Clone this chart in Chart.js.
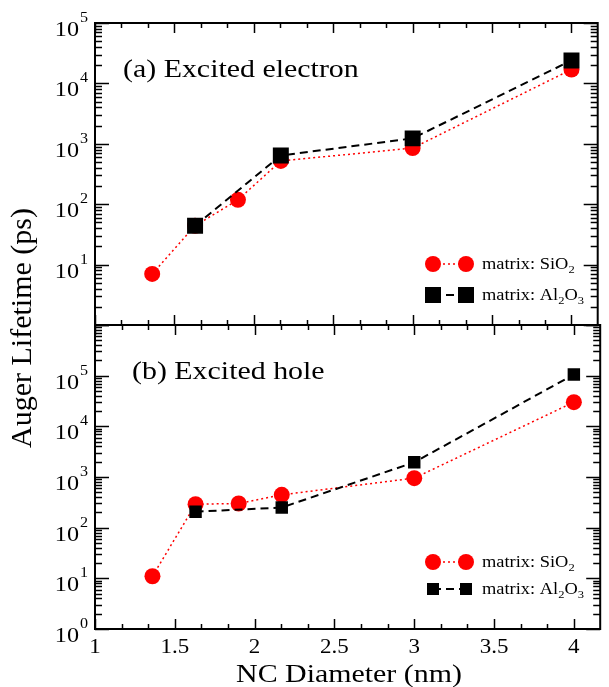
<!DOCTYPE html>
<html>
<head>
<meta charset="utf-8">
<script src="https://cdn.jsdelivr.net/npm/chart.js@4"></script>
<style>
  html, body { margin: 0; padding: 0; background: #fff; }
  #wrap { position: relative; width: 609px; height: 687px; }
  #wrap canvas { position: absolute; left: 0; top: 0; }
</style>
</head>
<body>
<div id="wrap">
  <canvas id="chartA" width="609" height="687"></canvas>
  <canvas id="chartB" width="609" height="687"></canvas>
</div>
<script>
// dados (NC diameter em nm, Auger lifetime em ps)
const diamSiO2 = [1.36, 1.63, 1.9, 2.17, 3.0, 4.0];
const diamAl2O3 = [1.63, 2.17, 3.0, 4.0];

// (a) excited electron
const elecSiO2 = [7, 44, 118, 520, 850, 17000];
const elecAl2O3 = [44, 640, 1230, 24000];

// (b) excited hole
const holeSiO2 = [11, 290, 300, 445, 950, 30000];
const holeAl2O3 = [207, 250, 1950, 105000];

// rótulos dos eixos
const xTickValues = [1, 1.5, 2, 2.5, 3, 3.5, 4];
const xTickLabels = ['1', '1.5', '2', '2.5', '3', '3.5', '4'];
const yExpA = [1, 2, 3, 4, 5];
const yExpB = [0, 1, 2, 3, 4, 5];

const SERIF = '"Liberation Serif", "Times New Roman", serif';
const SX = 1.15; // a figura original está esticada na horizontal

function txt(ctx, s, x, y, size, align) {
  ctx.save();
  ctx.font = size + 'px ' + SERIF;
  ctx.textAlign = align || 'left';
  ctx.textBaseline = 'alphabetic';
  ctx.translate(x, y);
  ctx.scale(SX, 1);
  ctx.fillText(s, 0, 0);
  ctx.restore();
  ctx.font = size + 'px ' + SERIF;
  return ctx.measureText(s).width * SX;
}

// texto com subscritos: partes [texto, sub?]
function txtParts(ctx, parts, x, y, size) {
  let cx = x;
  for (const [s, sub] of parts) {
    if (sub) cx += txt(ctx, s, cx, y + 4, size * 0.68);
    else cx += txt(ctx, s, cx, y, size);
  }
}

function seg(ctx, x1, y1, x2, y2) {
  ctx.beginPath();
  ctx.moveTo(x1, y1);
  ctx.lineTo(x2, y2);
  ctx.stroke();
}

function marker(ctx, kind, x, y, size) {
  ctx.fillStyle = kind === 'circle' ? '#ff0000' : '#000';
  ctx.beginPath();
  if (kind === 'circle') ctx.arc(x, y, size / 2, 0, Math.PI * 2);
  else ctx.rect(x - size / 2, y - size / 2, size, size);
  ctx.fill();
}

const framePlugin = {
  id: 'frame',
  afterDraw(chart, args, o) {
    const { ctx, chartArea: a } = chart;
    const x = chart.scales.x, y = chart.scales.y;
    ctx.save();
    ctx.strokeStyle = '#000';
    ctx.fillStyle = '#000';

    // ticks em x (para dentro, em cima e em baixo)
    ctx.lineWidth = 1.5;
    for (let i = 0; ; i++) {
      const v = 1 + i / 6;
      if (v > x.max + 1e-6) break;
      const px = Math.round(x.getPixelForValue(v)) + 0.5;
      const len = i % 3 === 0 ? 10 : 5;
      seg(ctx, px, a.bottom, px, a.bottom - len);
      seg(ctx, px, a.top, px, a.top + len);
    }
    // ticks em y (log)
    const e0 = Math.round(Math.log10(y.min)), e1 = Math.round(Math.log10(y.max));
    for (let e = e0; e <= e1; e++) {
      for (let m = 1; m <= 9; m++) {
        const v = m * Math.pow(10, e);
        if (v > y.max * 1.0001) break;
        const py = Math.round(y.getPixelForValue(v)) + 0.5;
        const len = m === 1 ? 14 : 7;
        seg(ctx, a.left, py, a.left + len, py);
        seg(ctx, a.right, py, a.right - len, py);
      }
    }

    // moldura
    ctx.lineWidth = 2;
    ctx.strokeRect(a.left, a.top, a.right - a.left, a.bottom - a.top);

    // rótulos do eixo y: 10^n
    for (const e of o.yExps) {
      const py = y.getPixelForValue(Math.pow(10, e));
      txt(ctx, '10', 79, py + 13, 21, 'right');
      txt(ctx, String(e), 80, py - 1, 14, 'left');
    }

    // rótulos do eixo x
    if (o.xLabels) {
      xTickValues.forEach((v, i) => {
        txt(ctx, xTickLabels[i], x.getPixelForValue(v), 653, 20, 'center');
      });
      txt(ctx, 'NC Diameter (nm)', 349, 682, 26, 'center');
    }

    // título do painel
    txt(ctx, o.panel, o.panelX, o.panelY, 26, 'left');

    // legenda
    const ds = chart.data.datasets;
    o.legend.forEach((row, i) => {
      const d = ds[row.ds];
      ctx.save();
      ctx.strokeStyle = d.borderColor;
      ctx.lineWidth = d.borderWidth;
      ctx.setLineDash(d.borderDash);
      seg(ctx, 433, row.y, 466, row.y);
      ctx.restore();
      const kind = d.pointStyle === 'rect' ? 'rect' : 'circle';
      marker(ctx, kind, 433, row.y, row.size);
      marker(ctx, kind, 466, row.y, row.size);
      ctx.fillStyle = '#000';
      txtParts(ctx, row.text, 482, row.y + 5, 16);
    });

    ctx.restore();
  }
};

function makeChart(id, xs1, ys1, xs2, ys2, yMax, pad, plug, sq, circ) {
  const toPts = (xs, ys) => xs.map((v, i) => ({ x: v, y: ys[i] }));
  return new Chart(document.getElementById(id), {
    type: 'line',
    data: {
      datasets: [
        {
          label: 'matrix: SiO2',
          data: toPts(xs1, ys1),
          borderColor: '#ff0000',
          borderWidth: 1.5,
          borderDash: [2, 3],
          pointStyle: 'circle',
          pointRadius: circ,
          pointBackgroundColor: '#ff0000',
          pointBorderWidth: 0,
          order: 1
        },
        {
          label: 'matrix: Al2O3',
          data: toPts(xs2, ys2),
          borderColor: '#000',
          borderWidth: 2,
          borderDash: [8, 5],
          pointStyle: 'rect',
          pointRadius: sq,
          pointBackgroundColor: '#000',
          pointBorderWidth: 0,
          order: 0
        }
      ]
    },
    options: {
      responsive: false,
      animation: false,
      events: [],
      layout: { padding: pad },
      scales: {
        x: { type: 'linear', min: 1, max: 4.165, display: false },
        y: { type: 'logarithmic', min: 1, max: yMax, display: false }
      },
      plugins: { legend: { display: false }, tooltip: { enabled: false }, frame: plug }
    },
    plugins: [framePlugin]
  });
}

makeChart('chartA', diamSiO2, elecSiO2, diamAl2O3, elecAl2O3, 1e5,
  { left: 95, right: 5, top: 23, bottom: 687 - 325 },
  {
    yExps: yExpA, xLabels: false,
    panel: '(a) Excited electron', panelX: 123, panelY: 77,
    legend: [
      { ds: 0, y: 264, size: 16, text: [['matrix: SiO'], ['2', true]] },
      { ds: 1, y: 295, size: 16, text: [['matrix: Al'], ['2', true], ['O'], ['3', true]] }
    ]
  }, 11.3, 8);

makeChart('chartB', diamSiO2, holeSiO2, diamAl2O3, holeAl2O3, 1e6,
  { left: 95, right: 5, top: 325, bottom: 687 - 629 },
  {
    yExps: yExpB, xLabels: true,
    panel: '(b) Excited hole', panelX: 132, panelY: 379,
    legend: [
      { ds: 0, y: 562, size: 16, text: [['matrix: SiO'], ['2', true]] },
      { ds: 1, y: 589, size: 12, text: [['matrix: Al'], ['2', true], ['O'], ['3', true]] }
    ]
  }, 8.8, 8);

// título do eixo y (comum aos dois painéis)
(function () {
  const ctx = document.getElementById('chartB').getContext('2d');
  ctx.save();
  ctx.translate(31, 328);
  ctx.rotate(-Math.PI / 2);
  ctx.font = '30px ' + SERIF;
  ctx.textAlign = 'center';
  ctx.fillStyle = '#000';
  ctx.fillText('Auger Lifetime (ps)', 0, 0);
  ctx.restore();
})();
</script>
</body>
</html>
